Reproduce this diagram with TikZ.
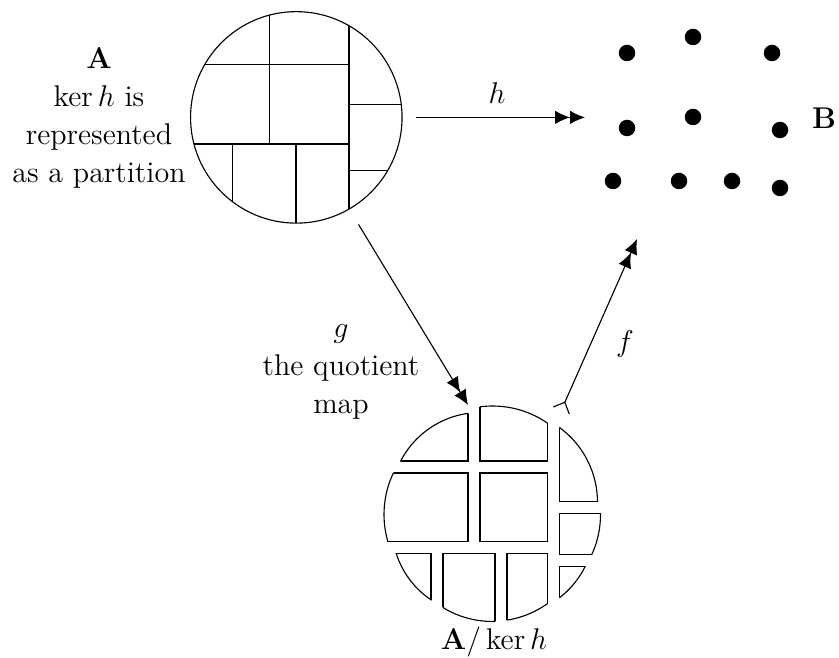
\documentclass[tikz,border=0pt]{standalone}
\usetikzlibrary{arrows.meta,positioning}

\tikzset{
  lbl/.style={align=center, font=\fontsize{12}{15.2}\selectfont},
  elem/.style={circle, fill=black, inner sep=0pt, minimum size=6.6pt},
  surj/.style={line width=0.45pt, -{Latex[length=6pt,width=5.4pt]Latex[length=6pt,width=5.4pt]}},
  bij/.style={line width=0.45pt, {Straight Barb[reversed,length=3.6pt,width=7pt]}-{Latex[length=6pt,width=5.4pt]Latex[length=6pt,width=5.4pt]}},
}

% one block of A/ker h: disc cut by a rectangle, moved apart by a shift
% #1 shift, #2 #3 rectangle corners, #4 radius
\newcommand{\qcell}[4]{%
  \begin{scope}[shift={#1}]
    \begin{scope}
      \clip #2 rectangle #3;
      \draw (492.5,514.5) circle (#4);
    \end{scope}
    \begin{scope}
      \clip (492.5,514.5) circle (#4);
      \draw #2 rectangle #3;
    \end{scope}
  \end{scope}}

\begin{document}
\begin{tikzpicture}[x=0.4pt, y=-0.4pt, line width=0.45pt]
\useasboundingbox (0,0) rectangle (839,658);

% the set A and its partition
\node[circle, draw, line width=0.45pt, minimum size=84.6pt, inner sep=0pt] (setA) at (296.3,117.4) {};
\begin{scope}
  \clip (296.3,117.4) circle (105.7);
  \draw (269.3,0) -- (269.3,144);
  \draw (180,64.3) -- (349,64.3);
  \draw (349,0) -- (349,240);
  \draw (180,144) -- (349,144);
  \draw (349,104.3) -- (420,104.3);
  \draw (349,170.7) -- (420,170.7);
  \draw (232.3,144) -- (232.3,240);
  \draw (296,144) -- (296,240);
\end{scope}
\node[lbl] (lblA) at (99,118) {\textbf{A}\\$\ker h$ is\\represented\\as a partition};

% the set B
\node[elem] (b1) at (627,53) {};
\node[elem] (b2) at (693,37) {};
\node[elem] (b3) at (772,53) {};
\node[elem] (b4) at (627,128) {};
\node[elem] (b5) at (693,117) {};
\node[elem] (b6) at (780,130) {};
\node[elem] (b7) at (613,181) {};
\node[elem] (b8) at (679,181) {};
\node[elem] (b9) at (732,181) {};
\node[elem] (b10) at (780,188) {};
\node[lbl] (lblB) at (824,118) {\textbf{B}};

% the quotient A/ker h
\qcell{(-12,-12)}{(380,400)}{(480,473)}{90}
\qcell{(0,-12)}{(480,400)}{(547.5,473)}{96.5}
\qcell{(12,-12)}{(547.5,400)}{(610,513.5)}{93}
\qcell{(-12,0)}{(380,473)}{(480,541.5)}{96.5}
\qcell{(0,0)}{(480,473)}{(547.5,541.5)}{96}
\qcell{(12,0)}{(547.5,513.5)}{(610,554.5)}{96}
\qcell{(12,12)}{(547.5,554.5)}{(610,620)}{90}
\qcell{(-12,12)}{(380,541.5)}{(443,620)}{88.5}
\qcell{(0,12)}{(443,541.5)}{(495,620)}{95}
\qcell{(0,12)}{(507,541.5)}{(547.5,620)}{94.7}
\node[lbl] (lblQ) at (494,642) {$\mathbf{A}/\ker h$};

% maps
\coordinate (hEnd) at (585,117.4);
\coordinate (gEnd) at (468,405);
\coordinate (fStart) at (561,411);
\coordinate (fEnd) at (637,239);

\draw[surj, shorten <=5.2pt] (setA.east) -- (hEnd);
\node[lbl] (lblh) at (497,93) {$h$};

\draw[surj, shorten <=7pt] (setA.-60) -- (gEnd);
\node[lbl] (lblg) at (341,372) {$g$\\the quotient\\map};

\draw[bij] (fStart) -- (fEnd);
\node[lbl] (lblf) at (625,344) {$f$};

\end{tikzpicture}
\end{document}
